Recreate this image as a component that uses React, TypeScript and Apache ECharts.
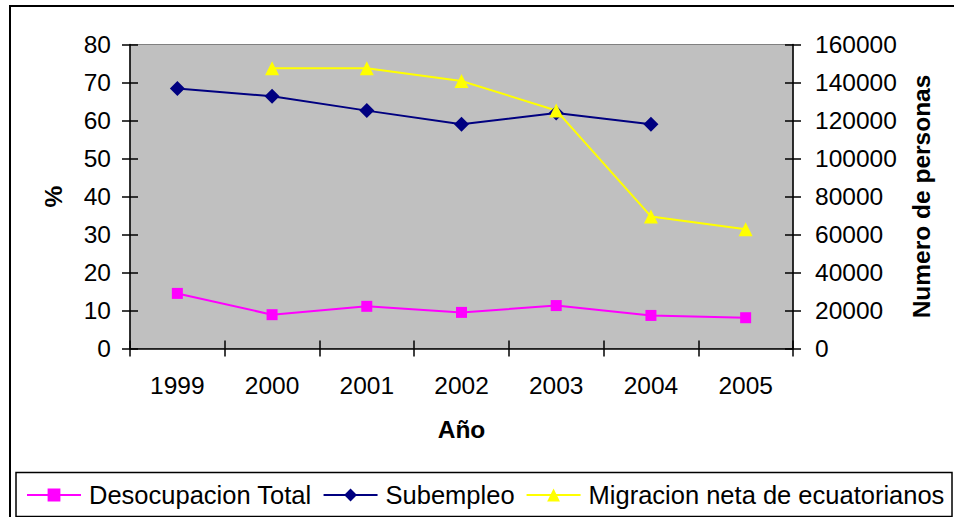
import React, { useEffect, useRef } from "react";
import * as echarts from "echarts";

const categories = ["1999", "2000", "2001", "2002", "2003", "2004", "2005"];
const desocupacion = [14.5, 8.9, 11.1, 9.5, 11.3, 8.7, 8.1];
const subempleo = [68.4, 66.4, 62.6, 59.0, 62.0, 59.0, null];
const migracion = [null, 147500, 147500, 140800, 125300, 69500, 62800];
const seriesNames = ["Desocupacion Total", "Subempleo", "Migracion neta de ecuatorianos"];

const FONT = "'Liberation Sans', Arial, sans-serif";
const FS = 24.5;

export default function App() {
  const ref = useRef<HTMLDivElement>(null);
  useEffect(() => {
    document.body.style.margin = "0";
    document.body.style.overflow = "hidden";
    const chart = echarts.init(ref.current!, null, { renderer: "svg" });
    const axisLine = { show: true, lineStyle: { color: "#000", width: 1.5 } };
    const tickOut = { show: true, inside: false, length: 8, lineStyle: { color: "#000", width: 1.5 } };
    const tickIn = { show: true, inside: true, length: 8, lineStyle: { color: "#000", width: 1.5 } };
    chart.setOption({
      animation: false,
      textStyle: { fontFamily: FONT, color: "#000" },
      grid: {
        left: 130,
        right: 161,
        top: 44.5,
        bottom: 168.5,
        show: true,
        backgroundColor: "#C0C0C0",
        borderColor: "#808080",
        borderWidth: 1,
        containLabel: false,
        outerBoundsMode: "none",
      },
      graphic: [
        {
          type: "rect",
          shape: { x: 10, y: 6, width: 1000, height: 600 },
          style: { fill: "none", stroke: "#000", lineWidth: 2 },
          z: -10,
        },
        {
          type: "rect",
          shape: { x: 16, y: 472.5, width: 936, height: 44 },
          style: { fill: "#fff", stroke: "#000", lineWidth: 1.5 },
          z: -5,
        },
      ],
      legend: {
        data: seriesNames,
        left: 18,
        top: 473,
        width: 934,
        padding: [9, 4, 9, 8],
        itemWidth: 54,
        itemHeight: 16,
        itemGap: 11,
        textStyle: { fontSize: 25.5, fontFamily: FONT, color: "#000", padding: [0, 0, 0, 3] },
      },
      xAxis: [
        {
          type: "category",
          data: categories,
          position: "bottom",
          boundaryGap: true,
          axisLine,
          axisTick: tickOut,
          axisLabel: { fontSize: FS, color: "#000", margin: 24, fontFamily: FONT },
          splitLine: { show: false },
          name: "Año",
          nameLocation: "middle",
          nameGap: 68,
          nameTextStyle: { fontSize: FS, fontWeight: "bold", color: "#000", fontFamily: FONT },
        },
        {
          type: "category",
          data: categories,
          position: "bottom",
          boundaryGap: true,
          axisLine: { show: false },
          axisTick: tickIn,
          axisLabel: { show: false },
          splitLine: { show: false },
        },
      ],
      yAxis: [
        {
          type: "value",
          min: 0,
          max: 80,
          interval: 10,
          position: "left",
          axisLine,
          axisTick: tickOut,
          axisLabel: { fontSize: FS, color: "#000", margin: 19, fontFamily: FONT },
          splitLine: { show: false },
          name: "%",
          nameLocation: "middle",
          nameRotate: 90,
          nameGap: 64,
          nameTextStyle: { fontSize: FS, fontWeight: "bold", color: "#000", fontFamily: FONT },
        },
        {
          type: "value",
          min: 0,
          max: 160000,
          interval: 20000,
          position: "right",
          axisLine,
          axisTick: tickOut,
          axisLabel: {
            fontSize: FS,
            color: "#000",
            margin: 22,
            fontFamily: FONT,
            formatter: (v: number) => String(v),
          },
          splitLine: { show: false },
          name: "Numero de personas",
          nameLocation: "middle",
          nameRotate: 90,
          nameGap: 116,
          nameTextStyle: { fontSize: FS, fontWeight: "bold", color: "#000", fontFamily: FONT },
        },
        {
          type: "value",
          min: 0,
          max: 80,
          interval: 10,
          position: "left",
          axisLine: { show: false },
          axisTick: tickIn,
          axisLabel: { show: false },
          splitLine: { show: false },
        },
        {
          type: "value",
          min: 0,
          max: 160000,
          interval: 20000,
          position: "right",
          axisLine: { show: false },
          axisTick: tickIn,
          axisLabel: { show: false },
          splitLine: { show: false },
        },
      ],
      series: [
        {
          name: seriesNames[0],
          type: "line",
          data: desocupacion,
          yAxisIndex: 0,
          symbol: "rect",
          symbolSize: 11,
          lineStyle: { color: "#FF00FF", width: 2 },
          itemStyle: { color: "#FF00FF" },
        },
        {
          name: seriesNames[1],
          type: "line",
          data: subempleo,
          yAxisIndex: 0,
          symbol: "diamond",
          symbolSize: 15,
          lineStyle: { color: "#000080", width: 2 },
          itemStyle: { color: "#000080" },
        },
        {
          name: seriesNames[2],
          type: "line",
          data: migracion,
          yAxisIndex: 1,
          symbol: "triangle",
          symbolSize: 14,
          lineStyle: { color: "#FFFF00", width: 2 },
          itemStyle: { color: "#FFFF00" },
        },
      ],
    });
    return () => chart.dispose();
  }, []);
  return <div ref={ref} style={{ width: 954, height: 517, background: "#fff" }} />;
}
